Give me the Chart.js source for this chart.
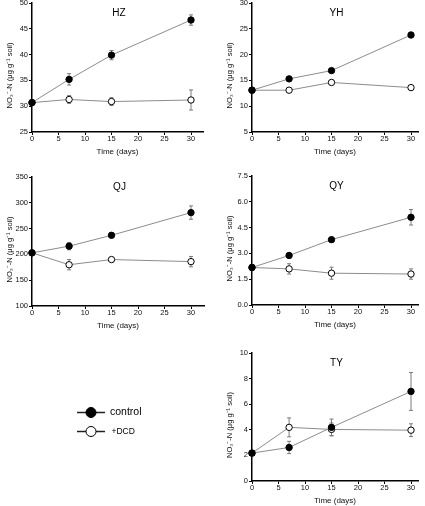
<!DOCTYPE html>
<html>
<head>
<meta charset="utf-8">
<script src="https://cdn.jsdelivr.net/npm/chart.js@4.4.0/dist/chart.umd.min.js"></script>
<style>
  body { margin: 0; background: #fff; }
  #wrap { position: relative; width: 425px; height: 506px; overflow: hidden; }
  .panel { position: absolute; }
  #legend { position: absolute; left: 70px; top: 400px; }
</style>
</head>
<body>
<div id="wrap">
  <canvas id="legend" width="90" height="42"></canvas>
</div>
<script>
// sampling days and axis ticks
const days = [0, 7, 15, 30];
const xTicks = [0, 5, 10, 15, 20, 25, 30];

// HZ
const hzControl = [30.7, 35.2, 39.9, 46.7];
const hzControlErr = [0.3, 1.1, 0.9, 1.0];
const hzDcd = [30.7, 31.3, 30.9, 31.2];
const hzDcdErr = [0.3, 0.75, 0.75, 1.95];
const hzTicks = [25, 30, 35, 40, 45, 50];

// YH
const yhControl = [13.1, 15.3, 16.9, 23.8];
const yhControlErr = [0.3, 0.3, 0.3, 0.5];
const yhDcd = [13.1, 13.1, 14.6, 13.6];
const yhDcdErr = [0.3, 0.3, 0.4, 0.3];
const yhTicks = [5, 10, 15, 20, 25, 30];

// QJ
const qjControl = [203, 216, 237, 281];
const qjControlErr = [4, 7, 4, 13];
const qjDcd = [203, 180, 190, 186];
const qjDcdErr = [4, 10, 4, 10];
const qjTicks = [100, 150, 200, 250, 300, 350];

// QY
const qyControl = [2.18, 2.88, 3.8, 5.1];
const qyControlErr = [0.08, 0.1, 0.12, 0.45];
const qyDcd = [2.18, 2.1, 1.85, 1.8];
const qyDcdErr = [0.08, 0.3, 0.35, 0.3];
const qyTicks = [0, 1.5, 3.0, 4.5, 6.0, 7.5];

// TY
const tyControl = [2.18, 2.62, 4.19, 7.0];
const tyControlErr = [0.08, 0.48, 0.65, 1.48];
const tyDcd = [2.18, 4.19, 4.03, 3.97];
const tyDcdErr = [0.08, 0.74, 0.5, 0.5];
const tyTicks = [0, 2, 4, 6, 8, 10];

const seriesNames = ['control', '+DCD'];

const FONT = "'Liberation Sans', Arial, sans-serif";
const yTitle = 'NO\u2083\u207B-N (\u03BCg g\u207B\u00B9 soil)';

// draws error bars under the points
const errorBars = {
    id: 'errorBars',
    beforeDatasetsDraw(chart) {
        const ctx = chart.ctx;
        const xs = chart.scales.x, ys = chart.scales.y;
        ctx.save();
        ctx.strokeStyle = '#7a7a7a';
        ctx.lineWidth = 1;
        chart.data.datasets.forEach(ds => {
            ds.errors.forEach((e, i) => {
                const v = ds.data[i].y;
                const px = xs.getPixelForValue(ds.data[i].x);
                const top = ys.getPixelForValue(v + e);
                const bot = ys.getPixelForValue(v - e);
                ctx.beginPath();
                ctx.moveTo(px, top); ctx.lineTo(px, bot);
                ctx.moveTo(px - 2, top); ctx.lineTo(px + 2, top);
                ctx.moveTo(px - 2, bot); ctx.lineTo(px + 2, bot);
                ctx.stroke();
            });
        });
        ctx.restore();
    }
};

// site name inside the plot, and the y title a bit below centre
const panelLabel = {
    id: 'panelLabel',
    afterDraw(chart, args, opts) {
        const a = chart.chartArea;
        const ctx = chart.ctx;
        ctx.save();
        ctx.font = '10px ' + FONT;
        ctx.fillStyle = '#000';
        ctx.textAlign = 'center';
        ctx.textBaseline = 'middle';
        ctx.fillText(opts.text, (a.left + a.right) / 2 + 1.5, a.top + 10.5);
        ctx.translate(9.5, (a.top + a.bottom) / 2 + 8);
        ctx.rotate(-Math.PI / 2);
        ctx.font = '7.5px ' + FONT;
        ctx.fillStyle = '#111';
        ctx.fillText(yTitle, 0, 0);
        ctx.restore();
    }
};

function toPoints(vals) {
    return vals.map((v, i) => ({ x: days[i], y: v }));
}

function makePanel(box, name, control, controlErr, dcd, dcdErr, yTicks, decimals) {
    const w = box.R - box.L + 32 + 6;
    const h = box.B - box.T + 6 + 25;
    const div = document.createElement('div');
    div.className = 'panel';
    div.style.left = (box.L - 32) + 'px';
    div.style.top = (box.T - 6) + 'px';
    const canvas = document.createElement('canvas');
    canvas.width = w;
    canvas.height = h;
    canvas.style.width = w + 'px';
    canvas.style.height = h + 'px';
    div.appendChild(canvas);
    document.getElementById('wrap').appendChild(div);

    const xMax = (box.R - box.L) / (box.x30 - box.L) * 30;

    new Chart(canvas.getContext('2d'), {
        type: 'line',
        data: {
            datasets: [{
                label: seriesNames[0],
                data: toPoints(control),
                errors: controlErr,
                borderColor: '#8c8c8c',
                borderWidth: 1,
                pointRadius: 3.2,
                pointBackgroundColor: '#000',
                pointBorderColor: '#000',
                pointBorderWidth: 1,
                clip: false
            },
            {
                label: seriesNames[1],
                data: toPoints(dcd),
                errors: dcdErr,
                borderColor: '#8c8c8c',
                borderWidth: 1,
                pointRadius: 3.2,
                pointBackgroundColor: '#fff',
                pointBorderColor: '#000',
                pointBorderWidth: 1,
                clip: false
            }]
        },
        options: {
            responsive: false,
            animation: false,
            layout: { padding: { top: 6, right: 6, left: 0, bottom: 0 } },
            plugins: {
                legend: { display: false },
                tooltip: { enabled: false },
                panelLabel: { text: name }
            },
            scales: {
                x: {
                    type: 'linear',
                    min: 0,
                    max: xMax,
                    afterBuildTicks: s => { s.ticks = xTicks.map(v => ({ value: v })); },
                    afterFit: s => { s.height = 25; },
                    border: { display: true, color: '#000', width: 1.5 },
                    grid: { drawOnChartArea: false, drawTicks: true, tickLength: 3, color: '#000' },
                    ticks: { font: { family: FONT, size: 7.5 }, color: '#111', padding: -1, maxRotation: 0 },
                    title: { display: true, text: 'Time (days)', font: { family: FONT, size: 8 }, color: '#111', padding: { top: 0, bottom: 0 } }
                },
                y: {
                    type: 'linear',
                    min: yTicks[0],
                    max: yTicks[yTicks.length - 1],
                    afterBuildTicks: s => { s.ticks = yTicks.map(v => ({ value: v })); },
                    afterFit: s => { s.width = 32; },
                    border: { display: true, color: '#000', width: 1.5 },
                    grid: { drawOnChartArea: false, drawTicks: true, tickLength: 3, color: '#000' },
                    ticks: {
                        font: { family: FONT, size: 7.5 }, color: '#111', padding: 1,
                        callback: v => decimals ? v.toFixed(decimals) : String(v)
                    },
                    title: { display: false }
                }
            }
        },
        plugins: [errorBars, panelLabel]
    });
}

makePanel({ L: 32, R: 203, T: 3, B: 132, x30: 191 }, 'HZ', hzControl, hzControlErr, hzDcd, hzDcdErr, hzTicks, 0);
makePanel({ L: 252, R: 418, T: 3, B: 132, x30: 411 }, 'YH', yhControl, yhControlErr, yhDcd, yhDcdErr, yhTicks, 0);
makePanel({ L: 32, R: 204, T: 177, B: 306, x30: 191 }, 'QJ', qjControl, qjControlErr, qjDcd, qjDcdErr, qjTicks, 0);
makePanel({ L: 252, R: 418, T: 176, B: 305, x30: 411 }, 'QY', qyControl, qyControlErr, qyDcd, qyDcdErr, qyTicks, 1);
makePanel({ L: 252, R: 418, T: 353, B: 481, x30: 411 }, 'TY', tyControl, tyControlErr, tyDcd, tyDcdErr, tyTicks, 0);

// shared key in the empty lower-left cell
const lg = document.getElementById('legend').getContext('2d');
[[12.5, '#000', 10.5, 40], [31.5, '#fff', 8.5, 41.5]].forEach((row, i) => {
    const y = row[0];
    lg.strokeStyle = '#222';
    lg.lineWidth = 1.5;
    lg.beginPath();
    lg.moveTo(7, y); lg.lineTo(35, y);
    lg.stroke();
    lg.beginPath();
    lg.arc(21, y, 5, 0, Math.PI * 2);
    lg.fillStyle = row[1];
    lg.fill();
    lg.lineWidth = 1;
    lg.strokeStyle = '#000';
    lg.stroke();
    lg.fillStyle = '#000';
    lg.font = row[2] + 'px ' + FONT;
    lg.textBaseline = 'middle';
    lg.fillText(seriesNames[i], row[3], y);
});
</script>
</body>
</html>
